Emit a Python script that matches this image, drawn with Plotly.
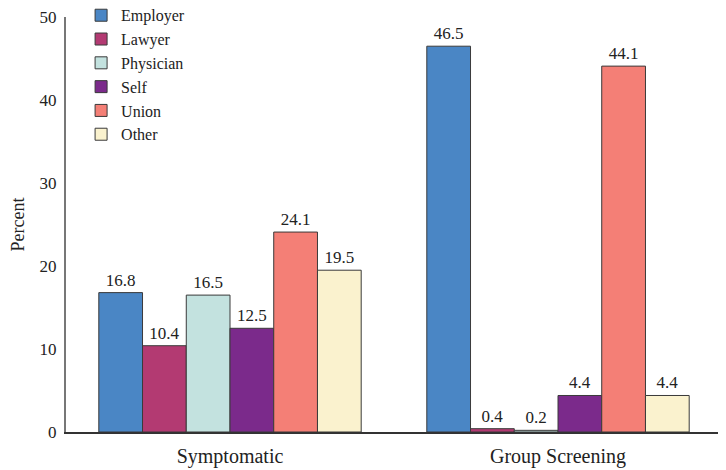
import plotly.graph_objects as go

# Referral source percentages by group
groups = ["Symptomatic", "Group Screening"]
sources = ["Employer", "Lawyer", "Physician", "Self", "Union", "Other"]
employer = [16.8, 46.5]
lawyer = [10.4, 0.4]
physician = [16.5, 0.2]
self_ref = [12.5, 4.4]
union = [24.1, 44.1]
other = [19.5, 4.4]
values = [employer, lawyer, physician, self_ref, union, other]

colors = ["#4A86C5", "#B33A72", "#C3E2DF", "#7B2A8B", "#F47F76", "#FAF2CE"]

fig = go.Figure()
for name, vals, col in zip(sources, values, colors):
    fig.add_trace(go.Bar(
        x=groups, y=vals, name=name,
        marker=dict(color=col, line=dict(color="#3a3a3a", width=1)),
        text=[f"{v:.1f}" for v in vals],
        textposition="outside",
        constraintext="none",
        textfont=dict(size=17, color="#222"),
        cliponaxis=False,
    ))

# page body has an 8px margin, so the figure is sized to fill the rest
fig.update_layout(
    barmode="group",
    bargap=0.2,
    bargroupgap=0,
    width=718, height=462,
    margin=dict(l=58, r=4, t=9, b=38, autoexpand=False),
    plot_bgcolor="white",
    paper_bgcolor="white",
    font=dict(family="Liberation Serif, Times New Roman, serif", size=17, color="#222"),
    legend=dict(x=0.023, y=1.045, xanchor="left", yanchor="top",
                bgcolor="rgba(0,0,0,0)", font=dict(size=16),
                tracegroupgap=0, itemwidth=30),
    showlegend=True,
)
fig.update_yaxes(range=[0, 50.02], tickvals=[0, 10, 20, 30, 40, 50],
                 showgrid=False, zeroline=False,
                 showline=True, linecolor="#777", linewidth=2,
                 ticks="", tickfont=dict(size=17), ticklabelstandoff=4,
                 ticklabeloverflow="allow",
                 title=dict(text="Percent", standoff=12, font=dict(size=18)))
fig.update_xaxes(showline=True, linecolor="#333", linewidth=1.5, ticks="",
                 showgrid=False, tickfont=dict(size=20), ticklabelstandoff=5)

fig.write_html("out.html")
